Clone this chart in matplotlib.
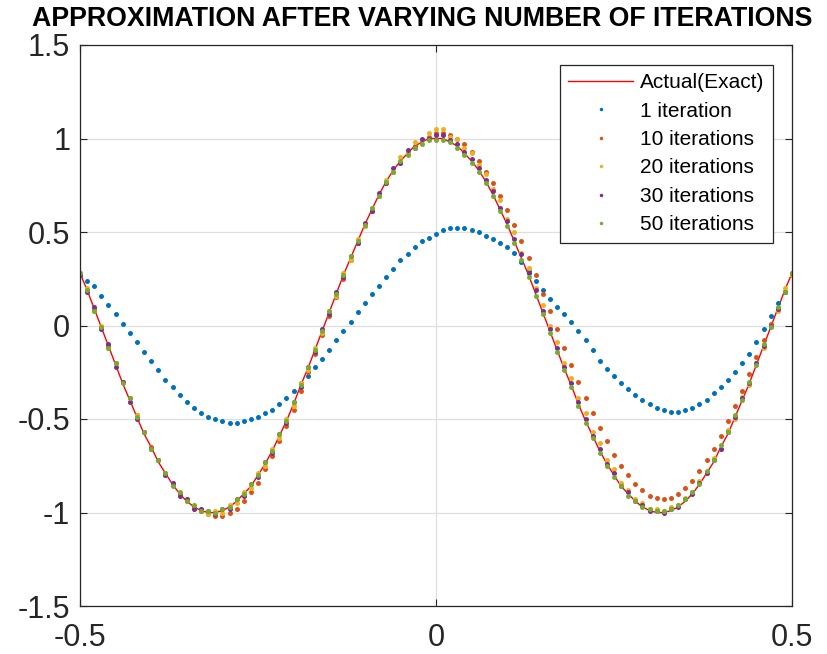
import numpy as np
from matplotlib import pyplot as plt

plt.rcParams['font.family'] = ['Liberation Sans', 'DejaVu Sans']

# shared x grid (-0.5 .. 0.5, step 0.01)
x_vals = np.round(np.arange(-50, 51) / 100, 2)

exact = [0.28, 0.19, 0.09, -0.01, -0.11, -0.21, -0.31, -0.40, -0.49, -0.58,
         -0.65, -0.73, -0.79, -0.85, -0.90, -0.94, -0.97, -0.99, -1.00, -1.00,
         -0.99, -0.97, -0.94, -0.90, -0.86, -0.80, -0.74, -0.67, -0.59, -0.51,
         -0.42, -0.32, -0.23, -0.13, -0.03, 0.07, 0.17, 0.27, 0.36, 0.45,
         0.54, 0.62, 0.70, 0.77, 0.83, 0.88, 0.92, 0.96, 0.98, 1.00,
         1.00,
         1.00, 0.98, 0.96, 0.92, 0.88, 0.83, 0.77, 0.70, 0.62, 0.54,
         0.45, 0.36, 0.27, 0.17, 0.07, -0.03, -0.13, -0.23, -0.32, -0.42,
         -0.51, -0.59, -0.67, -0.74, -0.80, -0.86, -0.90, -0.94, -0.97, -0.99,
         -1.00, -1.00, -0.99, -0.97, -0.94, -0.90, -0.85, -0.79, -0.73, -0.65,
         -0.58, -0.49, -0.40, -0.31, -0.21, -0.11, -0.01, 0.09, 0.19, 0.28]

iter1 = [0.27, 0.24, 0.21, 0.16, 0.11, 0.06, 0.01, -0.04, -0.09, -0.14,
         -0.19, -0.24, -0.29, -0.33, -0.37, -0.41, -0.44, -0.47, -0.49, -0.50,
         -0.51, -0.52, -0.52, -0.51, -0.50, -0.49, -0.47, -0.45, -0.42, -0.39,
         -0.35, -0.31, -0.27, -0.22, -0.18, -0.13, -0.08, -0.03, 0.02, 0.07,
         0.12, 0.17, 0.21, 0.26, 0.30, 0.35, 0.38, 0.42, 0.45, 0.47,
         0.49,
         0.51, 0.52, 0.52, 0.52, 0.51, 0.50, 0.48, 0.46, 0.44, 0.42,
         0.39, 0.34, 0.29, 0.24, 0.19, 0.14, 0.10, 0.06, 0.02, -0.03,
         -0.08, -0.13, -0.19, -0.23, -0.27, -0.31, -0.34, -0.37, -0.40, -0.42,
         -0.44, -0.45, -0.46, -0.46, -0.45, -0.44, -0.42, -0.40, -0.36, -0.33,
         -0.29, -0.25, -0.20, -0.15, -0.09, -0.02, 0.05, 0.12, 0.18, 0.27]

iter10 = [0.28, 0.19, 0.09, -0.01, -0.11, -0.20, -0.30, -0.39, -0.48, -0.57,
          -0.65, -0.72, -0.79, -0.85, -0.90, -0.94, -0.97, -0.99, -1.01, -1.02,
          -1.02, -1.00, -0.98, -0.94, -0.89, -0.84, -0.77, -0.70, -0.62, -0.54,
          -0.45, -0.35, -0.25, -0.15, -0.05, 0.05, 0.15, 0.25, 0.35, 0.44,
          0.53, 0.61, 0.69, 0.76, 0.82, 0.87, 0.92, 0.96, 0.99, 1.01,
          1.03,
          1.03, 1.02, 1.00, 0.97, 0.93, 0.88, 0.82, 0.76, 0.69, 0.62,
          0.54, 0.45, 0.36, 0.27, 0.17, 0.08, -0.02, -0.12, -0.21, -0.30,
          -0.39, -0.47, -0.55, -0.62, -0.69, -0.75, -0.80, -0.85, -0.88, -0.91,
          -0.92, -0.93, -0.92, -0.90, -0.87, -0.83, -0.78, -0.72, -0.66, -0.59,
          -0.51, -0.43, -0.35, -0.26, -0.17, -0.08, 0.01, 0.09, 0.18, 0.27]

iter20 = [0.28, 0.20, 0.08, 0.00, -0.12, -0.20, -0.30, -0.41, -0.48, -0.57,
          -0.66, -0.72, -0.80, -0.84, -0.91, -0.93, -0.98, -0.98, -1.01, -0.99,
          -1.00, -0.96, -0.95, -0.89, -0.87, -0.79, -0.75, -0.66, -0.60, -0.50,
          -0.43, -0.31, -0.24, -0.12, -0.04, 0.08, 0.16, 0.28, 0.35, 0.46,
          0.53, 0.63, 0.69, 0.78, 0.82, 0.90, 0.92, 0.98, 0.99, 1.03,
          1.05,
          1.05, 1.01, 1.00, 0.95, 0.92, 0.86, 0.81, 0.73, 0.67, 0.57,
          0.50, 0.39, 0.31, 0.20, 0.11, 0.00, -0.09, -0.20, -0.28, -0.39,
          -0.47, -0.57, -0.63, -0.72, -0.77, -0.84, -0.88, -0.93, -0.95, -0.98,
          -0.98, -0.99, -0.97, -0.96, -0.92, -0.89, -0.83, -0.79, -0.71, -0.66,
          -0.56, -0.50, -0.38, -0.32, -0.20, -0.12, 0.00, 0.08, 0.20, 0.27]

iter30 = [0.27, 0.18, 0.10, -0.02, -0.10, -0.22, -0.30, -0.41, -0.50, -0.57,
          -0.66, -0.72, -0.80, -0.84, -0.91, -0.93, -0.98, -0.98, -0.99, -1.01,
          -0.98, -0.98, -0.93, -0.91, -0.85, -0.81, -0.73, -0.68, -0.58, -0.52,
          -0.41, -0.33, -0.22, -0.14, -0.02, 0.06, 0.18, 0.26, 0.37, 0.44,
          0.55, 0.61, 0.71, 0.76, 0.84, 0.87, 0.94, 0.95, 1.00, 1.00,
          1.02,
          1.02, 0.99, 0.97, 0.93, 0.89, 0.84, 0.78, 0.72, 0.63, 0.56,
          0.46, 0.38, 0.28, 0.19, 0.08, -0.02, -0.12, -0.22, -0.31, -0.41,
          -0.50, -0.59, -0.66, -0.74, -0.79, -0.86, -0.89, -0.94, -0.96, -0.99,
          -0.99, -1.00, -0.98, -0.97, -0.93, -0.90, -0.84, -0.79, -0.72, -0.66,
          -0.57, -0.49, -0.39, -0.31, -0.20, -0.11, 0.00, 0.09, 0.18, 0.28]

iter50 = [0.28, 0.19, 0.08, -0.01, -0.12, -0.20, -0.31, -0.39, -0.49, -0.57,
          -0.66, -0.72, -0.79, -0.86, -0.89, -0.94, -0.96, -0.99, -0.99, -1.00,
          -0.98, -0.97, -0.93, -0.90, -0.85, -0.80, -0.73, -0.67, -0.58, -0.51,
          -0.41, -0.32, -0.22, -0.13, -0.03, 0.08, 0.17, 0.27, 0.37, 0.45,
          0.54, 0.63, 0.69, 0.77, 0.82, 0.88, 0.91, 0.95, 0.97, 0.99,
          0.99,
          0.99, 0.98, 0.95, 0.91, 0.87, 0.82, 0.76, 0.69, 0.61, 0.53,
          0.44, 0.35, 0.26, 0.16, 0.06, -0.04, -0.14, -0.24, -0.33, -0.43,
          -0.52, -0.60, -0.68, -0.75, -0.81, -0.86, -0.91, -0.94, -0.97, -0.98,
          -0.99, -0.99, -0.98, -0.96, -0.93, -0.89, -0.85, -0.78, -0.72, -0.64,
          -0.57, -0.48, -0.40, -0.30, -0.21, -0.10, -0.01, 0.10, 0.18, 0.28]

labels = ['1 iteration', '10 iterations', '20 iterations', '30 iterations', '50 iterations']
series = [iter1, iter10, iter20, iter30, iter50]
colors = ['#0072BD', '#D95319', '#EDB120', '#7E2F8E', '#77AC30']

fig = plt.figure(figsize=(8.27, 6.54), dpi=100)
ax = fig.add_axes([80 / 827, 48 / 654, 712 / 827, 561 / 654])

ax.plot(x_vals, exact, color='red', linewidth=1.0, label='Actual(Exact)')
for ys, c, lab in zip(series, colors, labels):
    ax.plot(x_vals, ys, linestyle='none', marker='o', markersize=3.6,
            markeredgewidth=0, color=c, label=lab)

ax.set_xlim(-0.5, 0.5)
ax.set_ylim(-1.5, 1.5)
ax.set_xticks([-0.5, 0, 0.5])
ax.set_xticklabels(['-0.5', '0', '0.5'])
ax.set_yticks([-1.5, -1, -0.5, 0, 0.5, 1, 1.5])
ax.set_yticklabels(['-1.5', '-1', '-0.5', '0', '0.5', '1', '1.5'])
ax.grid(True, color='#dfdfdf', linewidth=0.9)
ax.set_axisbelow(True)
ax.tick_params(direction='in', top=True, right=True, length=5, width=0.8,
               labelsize=22, colors='#262626')
ax.tick_params(axis='y', pad=7)
ax.tick_params(axis='x', pad=12)
for sp in ax.spines.values():
    sp.set_color('#262626')
    sp.set_linewidth(0.9)

leg = ax.legend(loc='upper right', bbox_to_anchor=(773 / 827, 1 - 65 / 654),
                bbox_transform=fig.transFigure, borderaxespad=0, fontsize=15,
                numpoints=1, handlelength=3.1, handletextpad=0.35,
                labelspacing=0.45, borderpad=0.4, fancybox=False,
                framealpha=1, markerscale=0.7)
leg.get_frame().set_edgecolor('#262626')
leg.get_frame().set_linewidth(0.9)

fig.text(0.51, 1 - 18.5 / 654, 'APPROXIMATION AFTER VARYING NUMBER OF ITERATIONS',
         ha='center', va='center', fontsize=19.3, fontweight='bold')

plt.savefig('out.png', dpi=100)
